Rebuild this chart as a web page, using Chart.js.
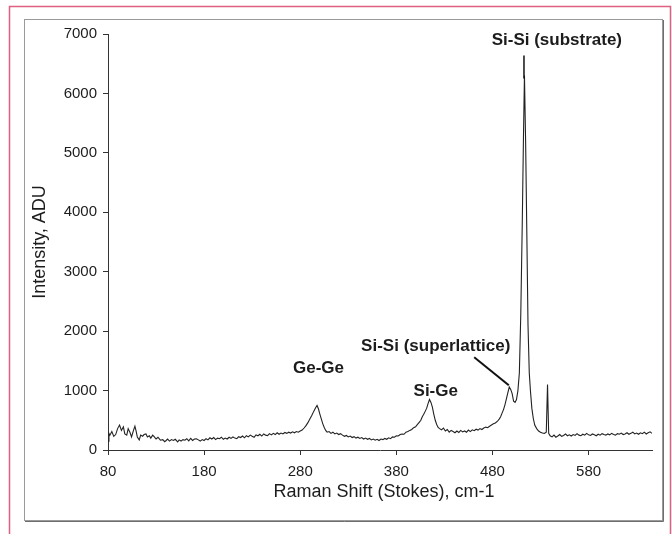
<!DOCTYPE html>
<html>
<head>
<meta charset="utf-8">
<script src="https://cdn.jsdelivr.net/npm/chart.js@4/dist/chart.umd.min.js"></script>
<style>
  html, body { margin: 0; padding: 0; background: #fff; }
  #wrap { position: relative; width: 672px; height: 534px; }
</style>
</head>
<body>
<div id="wrap"><canvas id="c" width="672" height="534"></canvas></div>
<script>
// Raman shift (cm-1)
const shift = [
  80,81,82,84,86,88,90,92,94,96,97.5,99.5,101,103,104.5,106.5,108,109.5,110.5,112.5,
  114,116,117.5,119.5,121,123,124.5,126.5,128,130,132,134.5,137,139,140.5,142,144,146,148,150,
  152.5,154,156,158,160,162,164,166,168,170,172,174,176,178,180,182,184,186,188,190,
  192,194,196,198,200,202,204,206,208,210,212,214,216,218,220,222,224,226,228,230,
  232,234,236,238,240,242,244,246,248,250,252,254,256,258,260,262,264,266,268,270,
  272,274,276,278,280,282,284,286,288,290,292,294,296,297.5,299,300.5,302,303.5,305,306.5,
  308,310,312,314,316,318,320,322,324,326,328,330,332,334,336,338,340,342,344,346,
  348,350,352,354,356,358,360,362,364,366,368,370,372,374,376,378,380,382,384,386,
  388,390,392,394,396,398,400,402,404,405.5,407,408.5,410,411.5,413,414.5,416,417.5,419,420.5,
  422,423.5,425,427,429,431,433,435,437,439,441,443,445,447,449,451,453,455,457,459,
  461,463,465,467,469,471,473,475,477,479,481,483,485,487,488.5,490,491.5,493,494.5,496,
  497.5,499,500.5,502,503.5,505,506.5,508,509.5,511,512.3,513.3,514.5,515.8,517,518.3,519.5,521,522.5,524,
  526,528,530,532,534,536,537.3,538.5,540,542,544,546,548,550,552,554,556,558,560,562,
  564,566,568,570,572,574,576,578,580,582,584,586,588,590,592,594,596,598,600,602,
  604,606,608,610,612,614,616,618,620,622,624,626,628,630,632,634,636,638,640,642,
  644,646
];
// Intensity (ADU)
const intensity = [
  150,280,250,310,230,260,360,420,330,390,270,250,360,290,220,330,400,300,220,170,
  250,230,260,270,220,240,200,250,225,185,215,165,175,140,160,185,150,175,160,180,
  135,170,150,175,165,190,155,195,160,185,190,170,150,175,160,190,170,205,185,210,
  175,200,190,215,180,200,185,215,195,220,200,190,225,210,235,205,240,220,250,230,
  215,255,240,265,235,270,250,240,275,255,280,260,290,265,285,270,295,280,300,285,
  305,290,310,300,320,335,370,410,460,520,580,650,710,750,690,600,520,440,380,330,
  300,310,280,300,270,285,260,275,250,230,245,220,235,210,225,200,215,195,210,185,
  200,180,195,170,185,165,180,160,185,175,195,180,205,190,220,215,240,235,260,270,
  265,300,310,330,345,375,390,430,470,500,560,600,650,700,780,850,800,720,600,500,
  430,380,360,340,370,320,345,300,330,310,290,320,295,330,305,320,300,335,310,340,
  325,350,335,360,345,370,385,375,400,420,440,455,480,520,560,620,680,760,860,960,
  1060,1020,950,820,800,850,1000,1300,2300,3800,5300,6300,5200,3600,2100,1300,1000,700,530,420,
  360,320,300,285,280,300,1100,280,240,220,250,215,235,260,230,245,270,240,255,235,
  260,245,275,250,240,265,250,280,255,245,270,255,240,265,250,275,260,250,270,255,
  280,260,250,275,265,285,260,270,290,265,280,300,270,285,265,290,275,300,270,290,
  305,280
];
const xTicks = [80, 180, 280, 380, 480, 580];
const yTicks = [0, 1000, 2000, 3000, 4000, 5000, 6000, 7000];
const peakLabels = ['Si-Si (substrate)', 'Si-Si (superlattice)', 'Ge-Ge', 'Si-Ge'];

const FONT = '"Liberation Sans", Arial, sans-serif';
const TXT = '#1c1c1c';

const frame = {
  id: 'frame',
  beforeDraw(chart) {
    const c = chart.ctx;
    c.save();
    c.fillStyle = '#fff';
    c.fillRect(0, 0, chart.width, chart.height);
    c.strokeStyle = '#e06080';
    c.lineWidth = 1.5;
    c.beginPath();
    c.moveTo(9.5, 540); c.lineTo(9.5, 6.5); c.lineTo(670.5, 6.5); c.lineTo(670.5, 540);
    c.stroke();
    c.strokeStyle = '#9a9a9a';
    c.lineWidth = 1;
    c.strokeRect(24.5, 19.5, 638, 501);
    c.strokeStyle = '#6e6e6e';
    c.beginPath();
    c.moveTo(663.5, 20); c.lineTo(663.5, 521.5); c.lineTo(25, 521.5);
    c.stroke();
    c.restore();
  },
  afterDraw(chart) {
    const c = chart.ctx;
    const xs = chart.scales.x, ys = chart.scales.y;
    const X = v => xs.getPixelForValue(v), Y = v => ys.getPixelForValue(v);
    c.save();
    c.fillStyle = TXT;
    c.font = '18px ' + FONT;
    c.textAlign = 'center';
    c.textBaseline = 'middle';
    c.fillText('Raman Shift (Stokes), cm-1', 384, 492);
    c.save();
    c.translate(40, 242);
    c.rotate(-Math.PI / 2);
    c.fillText('Intensity, ADU', 0, 0);
    c.restore();
    c.font = 'bold 17px ' + FONT;
    c.fillText(peakLabels[0], X(547), Y(6900));
    c.fillText(peakLabels[1], X(421), Y(1740));
    c.fillText(peakLabels[2], X(299), Y(1370));
    c.fillText(peakLabels[3], X(421), Y(990));
    c.strokeStyle = '#111';
    c.lineWidth = 2;
    c.beginPath();
    c.moveTo(X(461), Y(1560)); c.lineTo(X(497), Y(1090));
    c.stroke();
    c.lineWidth = 1.5;
    c.beginPath();
    c.moveTo(X(512.8), Y(6640)); c.lineTo(X(512.8), Y(6250));
    c.stroke();
    c.restore();
  }
};

new Chart(document.getElementById('c'), {
  type: 'scatter',
  data: {
    datasets: [{
      data: shift.map((x, i) => ({ x, y: intensity[i] })),
      showLine: true,
      borderColor: '#222',
      borderWidth: 1.1,
      pointRadius: 0,
      tension: 0
    }]
  },
  options: {
    responsive: false,
    animation: false,
    devicePixelRatio: 1,
    layout: { padding: { left: 0, top: 34, right: 20, bottom: 0 } },
    plugins: { legend: { display: false }, tooltip: { enabled: false } },
    scales: {
      x: {
        type: 'linear',
        min: 80, max: 646,
        afterFit: s => { s.height = 84; },
        afterBuildTicks: s => { s.ticks = xTicks.map(v => ({ value: v })); },
        grid: { display: true, drawOnChartArea: false, drawTicks: true, tickLength: 5, color: '#333', lineWidth: 1 },
        border: { display: true, color: '#333', width: 1 },
        ticks: { autoSkip: false, maxRotation: 0, padding: 8, color: TXT, font: { family: FONT, size: 15 },
                 callback: v => String(v) }
      },
      y: {
        type: 'linear',
        min: 0, max: 7000,
        afterFit: s => { s.width = 108; },
        afterBuildTicks: s => { s.ticks = yTicks.map(v => ({ value: v })); },
        grid: { display: true, drawOnChartArea: false, drawTicks: true, tickLength: 5, color: '#333', lineWidth: 1 },
        border: { display: true, color: '#333', width: 1 },
        ticks: { padding: 6, color: TXT, font: { family: FONT, size: 15 }, callback: v => String(v) }
      }
    }
  },
  plugins: [frame]
});
</script>
</body>
</html>
